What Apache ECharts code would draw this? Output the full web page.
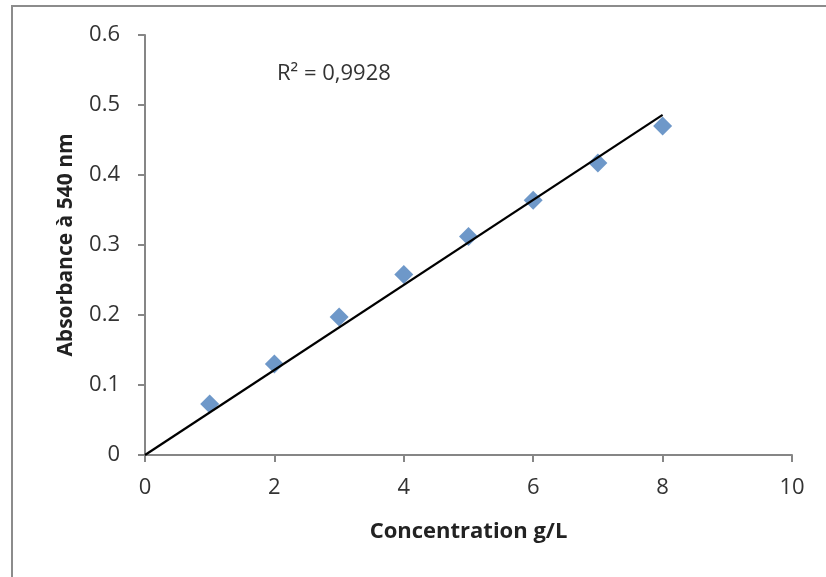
<!DOCTYPE html>
<html>
<head>
<meta charset="utf-8">
<script src="https://cdn.jsdelivr.net/npm/echarts@6/dist/echarts.min.js"></script>
<style>
    html,body{margin:0;padding:0;background:#fff;}
    #chart{width:826px;height:577px;}
</style>
</head>
<body>
<div id="chart"></div>
<script>
    // concentration (g/L) and absorbance
    var concentration = [1, 2, 3, 4, 5, 6, 7, 8];
    var absorbance = [0.073, 0.130, 0.197, 0.258, 0.312, 0.364, 0.417, 0.470];
    // linear trend line (through origin), end points
    var trendX = [0, 8];
    var trendY = [0, 0.486];
    var r2Label = 'R² = 0,9928';

    var points = concentration.map(function (x, i) { return [x, absorbance[i]]; });
    var trend = trendX.map(function (x, i) { return [x, trendY[i]]; });

    var myChart = echarts.init(document.getElementById('chart'));
    var axisGray = '#868686';
    var font = '"Open Sans", sans-serif';

    myChart.setOption({
        animation: false,
        grid: { left: 145, right: 34, top: 35, bottom: 122 },
        xAxis: {
            type: 'value',
            min: 0, max: 10, interval: 2,
            name: 'Concentration g/L',
            nameLocation: 'middle',
            nameGap: 66,
            nameTextStyle: { fontFamily: font, fontWeight: 'bold', fontSize: 22, color: '#222' },
            axisLine: { lineStyle: { color: axisGray, width: 2 } },
            axisTick: { show: true, length: 7, lineStyle: { color: axisGray, width: 2 } },
            axisLabel: { fontFamily: font, fontSize: 22, color: '#333', margin: 22 },
            splitLine: { show: false }
        },
        yAxis: {
            type: 'value',
            min: 0, max: 0.6, interval: 0.1,
            name: 'Absorbance à 540 nm',
            nameLocation: 'middle',
            nameGap: 68,
            nameTextStyle: { fontFamily: font, fontWeight: 'bold', fontSize: 21, color: '#222' },
            axisLine: { show: true, lineStyle: { color: axisGray, width: 2 } },
            axisTick: { show: true, length: 7, lineStyle: { color: axisGray, width: 2 } },
            axisLabel: {
                fontFamily: font, fontSize: 22, color: '#333', margin: 25,
                formatter: function (v) { return v === 0 ? '0' : v.toFixed(1); }
            },
            splitLine: { show: false }
        },
        graphic: [
            {
                type: 'rect',
                shape: { x: 12, y: 6, width: 900, height: 700 },
                style: { fill: 'none', stroke: '#8c8c8c', lineWidth: 2 },
                silent: true
            },
            {
                type: 'text',
                left: 277, top: 63,
                style: { text: r2Label, fontFamily: font, fontSize: 22, fill: '#333' }
            }
        ],
        series: [
            {
                type: 'line',
                data: trend,
                showSymbol: false,
                symbol: 'none',
                lineStyle: { color: '#000', width: 2.2 },
                z: 3
            },
            {
                type: 'scatter',
                data: points,
                symbol: 'diamond',
                symbolSize: 19,
                itemStyle: { color: '#4a7ebb' },
                z: 2
            }
        ]
    });
</script>
</body>
</html>
